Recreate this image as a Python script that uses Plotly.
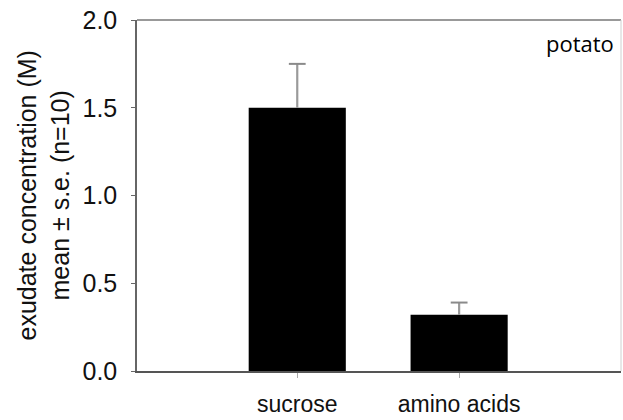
import plotly.graph_objects as go

categories = ["sucrose", "amino acids"]
means = [1.50, 0.32]
errors = [0.25, 0.07]
y_ticks = [0.0, 0.5, 1.0, 1.5, 2.0]
y_tick_labels = ["0.0", "0.5", "1.0", "1.5", "2.0"]

tops = [m + e for m, e in zip(means, errors)]

fig = go.Figure()
fig.add_trace(go.Bar(
    x=[0, 1], y=means,
    width=0.6,
    marker=dict(color="black", line=dict(width=0)),
    hoverinfo="skip",
))
# upward-only error bars (stem from bar top to mean + s.e., cap at top)
fig.add_trace(go.Scatter(
    x=[0, 1], y=tops, mode="markers",
    marker=dict(symbol="line-ew", size=12, line=dict(color="#8a8a8a", width=2)),
    error_y=dict(type="data", symmetric=False, array=[0, 0], arrayminus=errors,
                 color="#9a9a9a", thickness=2.2, width=0),
    hoverinfo="skip",
))

fig.update_layout(
    width=623, height=420,
    margin=dict(l=137, r=2, t=20, b=49, autoexpand=False),
    paper_bgcolor="white", plot_bgcolor="white",
    showlegend=False,
    font=dict(family="Liberation Sans, Arial, sans-serif", color="#111"),
    xaxis=dict(
        range=[-0.99, 2],
        tickmode="array", tickvals=[0, 1], ticktext=categories,
        ticks="outside", ticklen=5, tickcolor="#aaa", tickwidth=1,
        tickfont=dict(size=23, color="#111"),
        showline=True, linecolor="#555", linewidth=1.5,
        showgrid=False, zeroline=False, mirror=False,
        ticklabelstandoff=7, automargin=False,
    ),
    yaxis=dict(
        range=[0, 2],
        tickmode="array", tickvals=y_ticks, ticktext=y_tick_labels,
        ticks="outside", ticklen=4, tickcolor="#666", tickwidth=1,
        tickfont=dict(size=25, color="#111"),
        showline=True, linecolor="#666", linewidth=1.5,
        showgrid=False, zeroline=False,
        ticklabelstandoff=9, automargin=False,
    ),
    shapes=[
        dict(type="line", xref="paper", yref="paper", x0=0, x1=1, y0=1, y1=1,
             line=dict(color="#777", width=1.5)),
        dict(type="line", xref="paper", yref="paper", x0=1, x1=1, y0=0, y1=1,
             line=dict(color="#d0d0d0", width=1)),
    ],
    annotations=[
        dict(text="exudate concentration (M)", xref="paper", yref="paper",
             x=0, y=0.5, xshift=-111, textangle=-90, showarrow=False,
             xanchor="center", yanchor="middle",
             font=dict(size=25, color="#111")),
        dict(text="mean \u00b1 s.e. (n=10)", xref="paper", yref="paper",
             x=0, y=0.5, xshift=-78, textangle=-90, showarrow=False,
             xanchor="center", yanchor="middle",
             font=dict(size=25, color="#111")),
        dict(text="potato", xref="paper", yref="paper",
             x=1, y=1, xshift=-5, yshift=-6, showarrow=False,
             xanchor="right", yanchor="top",
             font=dict(size=22, family="Open Sans, sans-serif", color="black")),
    ],
)

fig.write_html("out.html", config={"displayModeBar": False},
               post_script="document.body.style.margin='0';document.body.style.padding='0';")
